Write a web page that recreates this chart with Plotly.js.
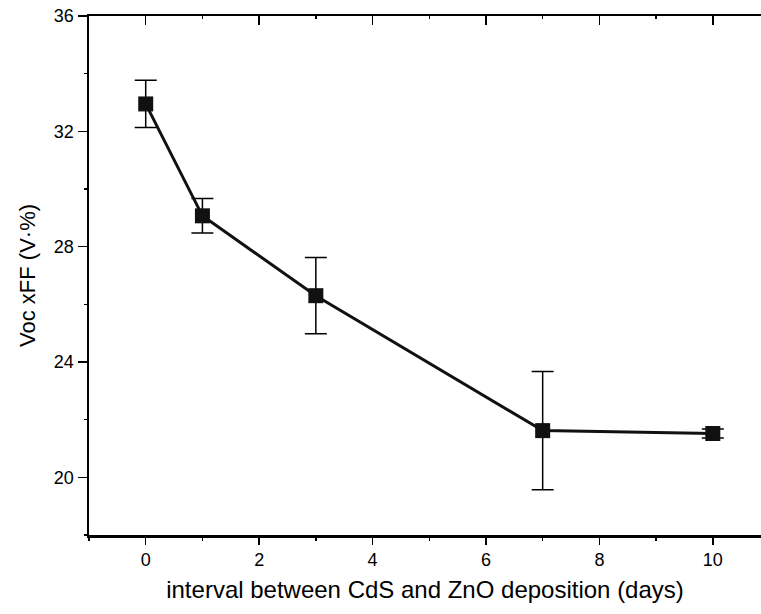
<!DOCTYPE html>
<html>
<head>
<meta charset="utf-8">
<script src="https://cdn.plot.ly/plotly-3.0.1.min.js"></script>
<style>
  html, body { margin: 0; padding: 0; background: #fff; }
  #chart { width: 761px; height: 614px; }
</style>
</head>
<body>
<div id="chart"></div>
<script>
// Interval between CdS and ZnO deposition (days)
const days = [0, 1, 3, 7, 10];
// Voc x FF (V·%) and its spread
const vocFF = [32.95, 29.07, 26.30, 21.62, 21.52];
const vocFFErr = [0.82, 0.60, 1.32, 2.05, 0.16];

const xTickVals = [0, 2, 4, 6, 8, 10];
const yTickVals = [20, 24, 28, 32, 36];

const xRange = [-1, 10.85];
const yRange = [18, 36];

const tickFont = { family: 'Liberation Sans, Arial, sans-serif', size: 18, color: '#000' };
const titleFont = { family: 'Liberation Sans, Arial, sans-serif', size: 24, color: '#000' };

const trace = {
  x: days,
  y: vocFF,
  type: 'scatter',
  mode: 'lines+markers',
  line: { color: '#111', width: 3 },
  marker: { symbol: 'square', size: 15, color: '#111' },
  error_y: {
    type: 'data',
    array: vocFFErr,
    visible: true,
    color: '#000',
    thickness: 1.5,
    width: 11
  },
  showlegend: false,
  hoverinfo: 'x+y'
};

// invisible companion so the top (mirrored) axis is drawn with inward ticks
const topTrace = {
  x: days,
  y: vocFF,
  xaxis: 'x2',
  type: 'scatter',
  mode: 'markers',
  marker: { opacity: 0 },
  showlegend: false,
  hoverinfo: 'skip'
};

const layout = {
  width: 761,
  height: 614,
  margin: { l: 89, r: 0, t: 16, b: 79 },
  paper_bgcolor: '#fff',
  plot_bgcolor: '#fff',
  xaxis: {
    range: xRange,
    tickvals: xTickVals,
    ticks: 'outside',
    ticklen: 7,
    tickwidth: 1.5,
    tickcolor: '#000',
    minor: { dtick: 1, tick0: 0, ticks: 'outside', ticklen: 3, tickwidth: 1.5, tickcolor: '#000' },
    showline: true,
    linecolor: '#000',
    linewidth: 2.5,
    showgrid: false,
    zeroline: false,
    tickfont: tickFont,
    title: {
      text: 'interval between CdS and ZnO deposition (days)',
      font: titleFont,
      standoff: 12
    }
  },
  xaxis2: {
    range: xRange,
    overlaying: 'x',
    side: 'top',
    anchor: 'y',
    tickvals: xTickVals,
    ticks: 'inside',
    ticklen: 9,
    tickwidth: 1.5,
    tickcolor: '#000',
    minor: { dtick: 1, tick0: 0, ticks: 'inside', ticklen: 3, tickwidth: 1.5, tickcolor: '#000' },
    showticklabels: false,
    showline: true,
    linecolor: '#000',
    linewidth: 2,
    showgrid: false,
    zeroline: false
  },
  yaxis: {
    range: yRange,
    tickvals: yTickVals,
    ticks: 'outside',
    ticklen: 9,
    tickwidth: 1.5,
    tickcolor: '#000',
    minor: { dtick: 2, tick0: 0, ticks: 'outside', ticklen: 3, tickwidth: 1.5, tickcolor: '#000' },
    showline: true,
    linecolor: '#000',
    linewidth: 2.5,
    showgrid: false,
    zeroline: false,
    tickfont: tickFont,
    title: {
      text: 'Voc xFF (V·%)',
      font: { family: 'Liberation Sans, Arial, sans-serif', size: 22, color: '#000' },
      standoff: 12
    }
  }
};

Plotly.newPlot('chart', [trace, topTrace], layout, { displayModeBar: false, staticPlot: true });
</script>
</body>
</html>
